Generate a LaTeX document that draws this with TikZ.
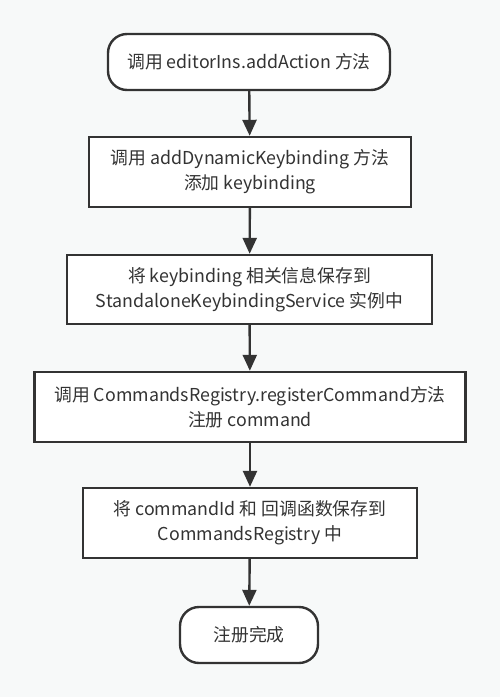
\documentclass[tikz,border=0pt]{standalone}
\usepackage{fontspec}
\setmainfont{Noto Sans CJK SC}
\usetikzlibrary{arrows.meta}
\usetikzlibrary{positioning}
\definecolor{bgray}{HTML}{F7F9F9}
\definecolor{dgray}{HTML}{333333}
\tikzset{stepbox/.style = {draw=dgray, line width=2.4pt, fill=white, text=dgray,
                           align=center, inner sep=0pt, font=\fontsize{17.8}{25}\selectfont},
         termbox/.style = {stepbox, rounded corners=19pt},
         flow/.style = {draw=dgray, line width=2.4pt,
                        -{Triangle[length=16pt, width=14pt]}}}

\begin{document}
\begin{tikzpicture}[x=1pt, y=-1pt]
    \fill [bgray] (0, 0) rectangle (500, 697);
    \useasboundingbox (0, 0) rectangle (500, 697);

    \node [termbox, minimum width=282pt, minimum height=56pt] (start) at (249, 62)
          {调用 editorIns.addAction 方法};
    \node [stepbox, minimum width=322pt, minimum height=70pt] (adddyn) at (250, 172)
          {调用 addDynamicKeybinding 方法\\添加 keybinding};
    \node [stepbox, minimum width=365pt, minimum height=69pt] (savekb) at (249.5, 289.5)
          {将 keybinding 相关信息保存到\\StandaloneKeybindingService 实例中};
    \node [stepbox, minimum width=431pt, minimum height=70pt] (regcmd) at (250, 407)
          {调用 CommandsRegistry.registerCommand方法\\注册 command};
    \node [stepbox, minimum width=334pt, minimum height=70pt] (savecb) at (250, 523)
          {将 commandId 和 回调函数保存到\\CommandsRegistry 中};
    \node [termbox, minimum width=138pt, minimum height=56pt] (done) at (249, 635)
          {注册完成};

    \draw [flow] (start) -- (adddyn);
    \draw [flow] (adddyn) -- (savekb);
    \draw [flow] (savekb) -- (regcmd);
    \draw [flow] (regcmd) -- (savecb);
    \draw [flow] (savecb) -- (done);
  \end{tikzpicture}
\end{document}
